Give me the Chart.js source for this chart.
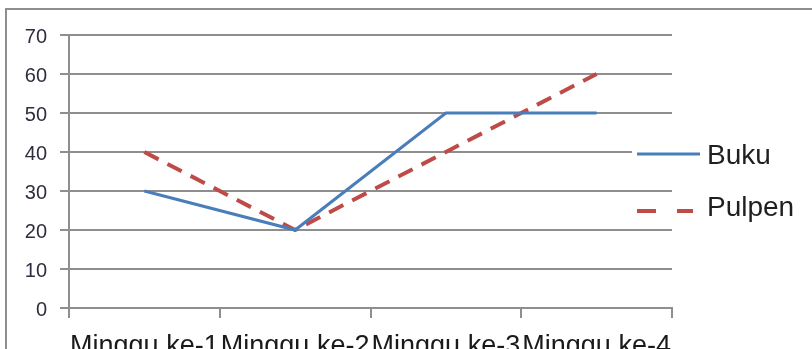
<!DOCTYPE html>
<html>
<head>
<meta charset="utf-8">
<script src="https://cdn.jsdelivr.net/npm/chart.js@4"></script>
<style>
  html, body { margin:0; padding:0; width:812px; height:349px; overflow:hidden; background:#fff; }
  #frame { position:absolute; left:5px; top:8px; width:900px; height:400px; border:2px solid #8e8e8e; box-sizing:border-box; }
  #wrap { position:absolute; left:0; top:0; width:812px; height:349px; }
  .lg { position:absolute; font-family:"Liberation Sans", Arial, sans-serif; font-size:28px; line-height:28px; color:#1f1f1f; white-space:nowrap; }
  .lgline { position:absolute; }
</style>
</head>
<body>
<div id="frame"></div>
<div id="wrap"><canvas id="c" width="812" height="349"></canvas></div>
<div style="position:absolute;left:632px;top:146px;width:76px;height:16px;background:#fff;"></div>
<svg class="lgline" style="left:630px;top:140px" width="80" height="80">
  <line x1="7" y1="14" x2="70" y2="14" stroke="#4a7ebb" stroke-width="3"/>
  <line x1="7" y1="71" x2="63" y2="71" stroke="#be4b48" stroke-width="4" stroke-dasharray="19 21"/>
</svg>
<div class="lg" style="left:707px;top:141px">Buku</div>
<div class="lg" style="left:707px;top:193px">Pulpen</div>
<script>
const categories = ["Minggu ke-1", "Minggu ke-2", "Minggu ke-3", "Minggu ke-4"];
const bukuValues = [30, 20, 50, 50];
const pulpenValues = [40, 20, 40, 60];
const yTicks = [0, 10, 20, 30, 40, 50, 60, 70];

new Chart(document.getElementById('c'), {
  type: 'line',
  data: {
    labels: categories,
    datasets: [
      { label: 'Buku', data: bukuValues, borderColor: '#4a7ebb', borderWidth: 3, pointRadius: 0, tension: 0, fill: false },
      { label: 'Pulpen', data: pulpenValues, borderColor: '#be4b48', borderWidth: 4, borderDash: [16, 10], pointRadius: 0, tension: 0, fill: false }
    ]
  },
  options: {
    responsive: false,
    animation: false,
    events: [],
    layout: { padding: { top: 35, right: 140, left: 0, bottom: 0 } },
    plugins: { legend: { display: false }, tooltip: { enabled: false } },
    scales: {
      x: {
        type: 'category',
        offset: true,
        afterFit: (s) => { s.height = 41; },
        grid: { offset: true, drawOnChartArea: false, drawTicks: true, tickLength: 10, color: '#8e8e8e', lineWidth: 2 },
        border: { color: '#8e8e8e', width: 2 },
        ticks: { autoSkip: false, maxRotation: 0, minRotation: 0, padding: 12, color: '#1a1a1a',
                 font: { family: '"Liberation Sans", Arial, sans-serif', size: 27 } }
      },
      y: {
        min: 0, max: 70,
        afterFit: (s) => { s.width = 69; },
        afterBuildTicks: (s) => { s.ticks = yTicks.map(v => ({ value: v })); },
        grid: { color: '#8e8e8e', lineWidth: 2, tickLength: 9 },
        border: { color: '#8e8e8e', width: 2 },
        ticks: { padding: 13, labelOffset: 2, color: '#2e2e3e',
                 font: { family: '"Liberation Sans", Arial, sans-serif', size: 20 } }
      }
    }
  }
});
</script>
</body>
</html>
